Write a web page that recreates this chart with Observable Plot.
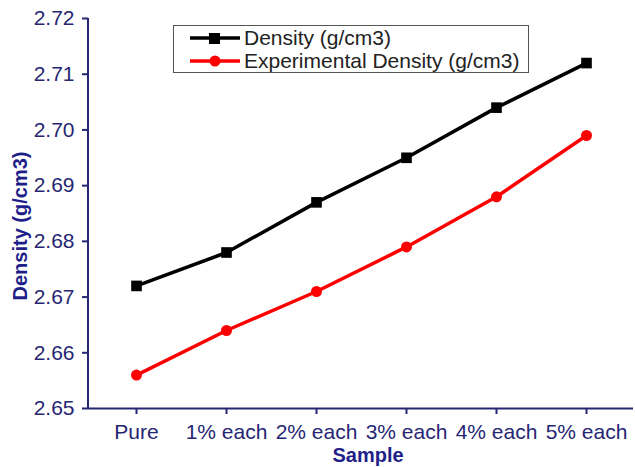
<!DOCTYPE html>
<html>
<head>
<meta charset="utf-8">
<script src="https://cdn.jsdelivr.net/npm/d3@7"></script>
<script src="https://cdn.jsdelivr.net/npm/@observablehq/plot@0.6"></script>
<style>
  html, body { margin: 0; padding: 0; background: #fff; }
  #chart svg { display: block; font-family: "Liberation Sans", Arial, sans-serif; }
  #chart [aria-label="x-axis tick label"] text,
  #chart [aria-label="y-axis tick label"] text { font-size: 21px; fill: #262673; }
</style>
</head>
<body>
<div id="chart"></div>
<script>
const categories = ["Pure", "1% each", "2% each", "3% each", "4% each", "5% each"];
const density = [2.672, 2.678, 2.687, 2.695, 2.704, 2.712];
const expDensity = [2.656, 2.664, 2.671, 2.679, 2.688, 2.699];
const yTicks = [2.65, 2.66, 2.67, 2.68, 2.69, 2.70, 2.71, 2.72];
const seriesNames = ["Density (g/cm3)", "Experimental Density (g/cm3)"];
const seriesColors = ["#000000", "#ff0000"];
const xTitle = "Sample";
const yTitle = "Density (g/cm3)";

const rows = [];
categories.forEach((c, i) => {
  rows.push({sample: c, value: density[i], series: seriesNames[0]});
  rows.push({sample: c, value: expDensity[i], series: seriesNames[1]});
});
const rowsA = rows.filter(d => d.series === seriesNames[0]);
const rowsB = rows.filter(d => d.series === seriesNames[1]);

const axisColor = "#262673";

const plot = Plot.plot({
  width: 635,
  height: 467,
  marginLeft: 88,
  marginRight: 2,
  marginTop: 18,
  marginBottom: 59,
  style: {background: "#fff", fontFamily: "Liberation Sans, Arial, sans-serif"},
  x: {type: "point", domain: categories, padding: 0.5},
  y: {domain: [2.65, 2.72]},
  marks: [
    Plot.axisY({ticks: yTicks, tickFormat: d3.format(".2f"), tickSize: 6, tickPadding: 8,
      stroke: axisColor, strokeWidth: 2, strokeOpacity: 1, label: null}),
    Plot.axisX({tickSize: 6, tickPadding: 10, stroke: axisColor, strokeWidth: 2, strokeOpacity: 1, label: null}),
    Plot.ruleY([2.65], {stroke: axisColor, strokeWidth: 2}),
    Plot.lineY(rowsA, {x: "sample", y: "value", stroke: seriesColors[0], strokeWidth: 3.5}),
    Plot.lineY(rowsB, {x: "sample", y: "value", stroke: seriesColors[1], strokeWidth: 3.5}),
    Plot.dot(rowsA, {x: "sample", y: "value", symbol: "square", r: 6, fill: seriesColors[0], stroke: "none"}),
    Plot.dot(rowsB, {x: "sample", y: "value", symbol: "circle", r: 5.5, fill: seriesColors[1], stroke: "none"})
  ]
});

document.getElementById("chart").appendChild(plot);

const svg = d3.select(plot);
// y-axis line
svg.append("line").attr("x1", 88).attr("x2", 88).attr("y1", 18).attr("y2", 408)
  .attr("stroke", axisColor).attr("stroke-width", 2);

// axis titles
svg.append("text").attr("transform", "translate(20,226) rotate(-90)")
  .attr("text-anchor", "middle").attr("dy", "0.35em")
  .attr("font-size", 20).attr("font-weight", "bold").attr("fill", "#1f1f8a").text(yTitle);
svg.append("text").attr("x", 368).attr("y", 455)
  .attr("text-anchor", "middle").attr("dy", "0.35em")
  .attr("font-size", 20).attr("font-weight", "bold").attr("fill", "#1f1f8a").text(xTitle);

// Legend
const lg = svg.append("g");
lg.append("rect").attr("x", 173.5).attr("y", 25.5).attr("width", 355).attr("height", 47)
  .attr("fill", "#fff").attr("stroke", "#555").attr("stroke-width", 1);
seriesNames.forEach((name, i) => {
  const y = 38 + i * 23;
  lg.append("line").attr("x1", 190).attr("x2", 240).attr("y1", y).attr("y2", y)
    .attr("stroke", seriesColors[i]).attr("stroke-width", 3.5);
  if (i === 0) {
    lg.append("rect").attr("x", 209).attr("y", y - 5).attr("width", 11).attr("height", 11).attr("fill", seriesColors[i]);
  } else {
    lg.append("circle").attr("cx", 215).attr("cy", y).attr("r", 5.5).attr("fill", seriesColors[i]);
  }
  lg.append("text").attr("x", 244).attr("y", y).attr("dy", "0.35em").attr("text-anchor", "start")
    .attr("font-size", 21).attr("fill", "#222").text(name);
});
</script>
</body>
</html>
